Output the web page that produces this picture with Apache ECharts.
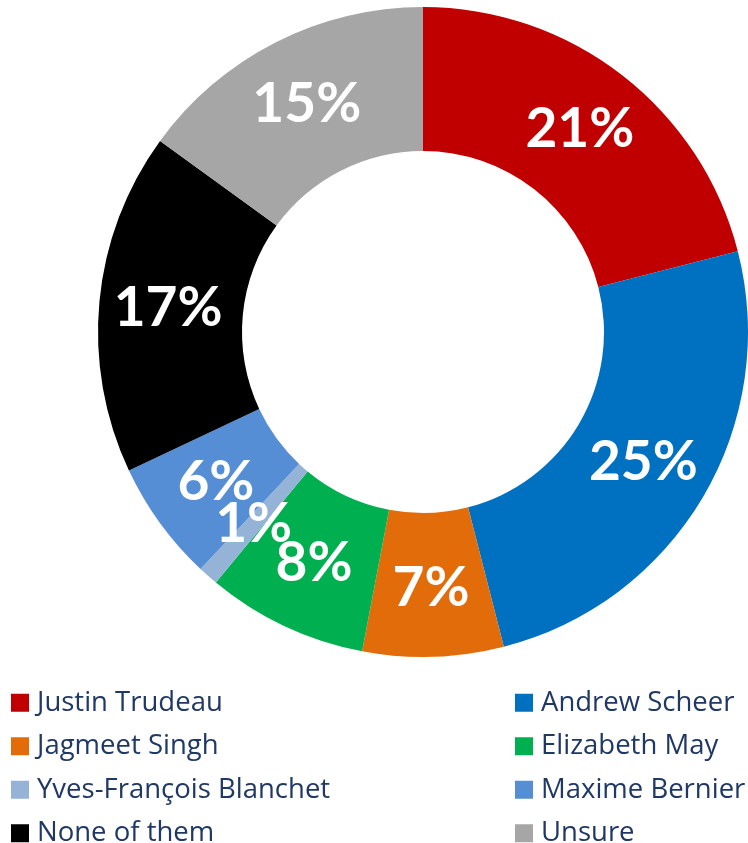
<!DOCTYPE html>
<html>
<head>
<meta charset="utf-8">
<script src="https://cdn.jsdelivr.net/npm/echarts@6/dist/echarts.min.js"></script>
<style>
  html, body { margin: 0; padding: 0; background: #fff; }
  #chart { width: 748px; height: 843px; }
</style>
</head>
<body>
<div id="chart"></div>
<script>
// 各候选人支持率（%）
const names = ['Justin Trudeau', 'Andrew Scheer', 'Jagmeet Singh', 'Elizabeth May',
  'Yves-François Blanchet', 'Maxime Bernier', 'None of them', 'Unsure']
const values = [21, 25, 7, 8, 1, 6, 17, 15]
const colors = ['#C00000', '#0070C0', '#E36C0A', '#00B050', '#95B3D7', '#558ED5', '#000000', '#A6A6A6']

// 图例分成左右两列
const leftNames = [names[0], names[2], names[4], names[6]]
const rightNames = [names[1], names[3], names[5], names[7]]

const chart = echarts.init(document.getElementById('chart'))

const legendBase = {
  orient: 'vertical',
  top: 680,
  height: 170,
  itemWidth: 18,
  itemHeight: 18,
  itemGap: 8,
  icon: 'rect',
  textStyle: {
    fontFamily: 'Open Sans',
    fontSize: 27.5,
    lineHeight: 35.5,
    color: '#1F3864',
    padding: [0, 0, 0, 3]
  }
}

chart.setOption({
  animation: false,
  color: colors,
  legend: [
    Object.assign({}, legendBase, { left: 6, data: leftNames }),
    Object.assign({}, legendBase, { left: 510, data: rightNames })
  ],
  series: [
    {
      type: 'pie',
      center: [423, 332],
      radius: [181, 325],
      startAngle: 90,
      clockwise: true,
      avoidLabelOverlap: false,
      label: {
        show: true,
        position: 'inside',
        formatter: '{c}%',
        color: '#fff',
        fontFamily: 'Lato',
        fontWeight: 'bold',
        fontSize: 55
      },
      labelLayout: { hideOverlap: false },
      labelLine: { show: false },
      emphasis: { disabled: true },
      data: names.map((n, i) => ({ name: n, value: values[i] }))
    }
  ]
})
</script>
</body>
</html>
